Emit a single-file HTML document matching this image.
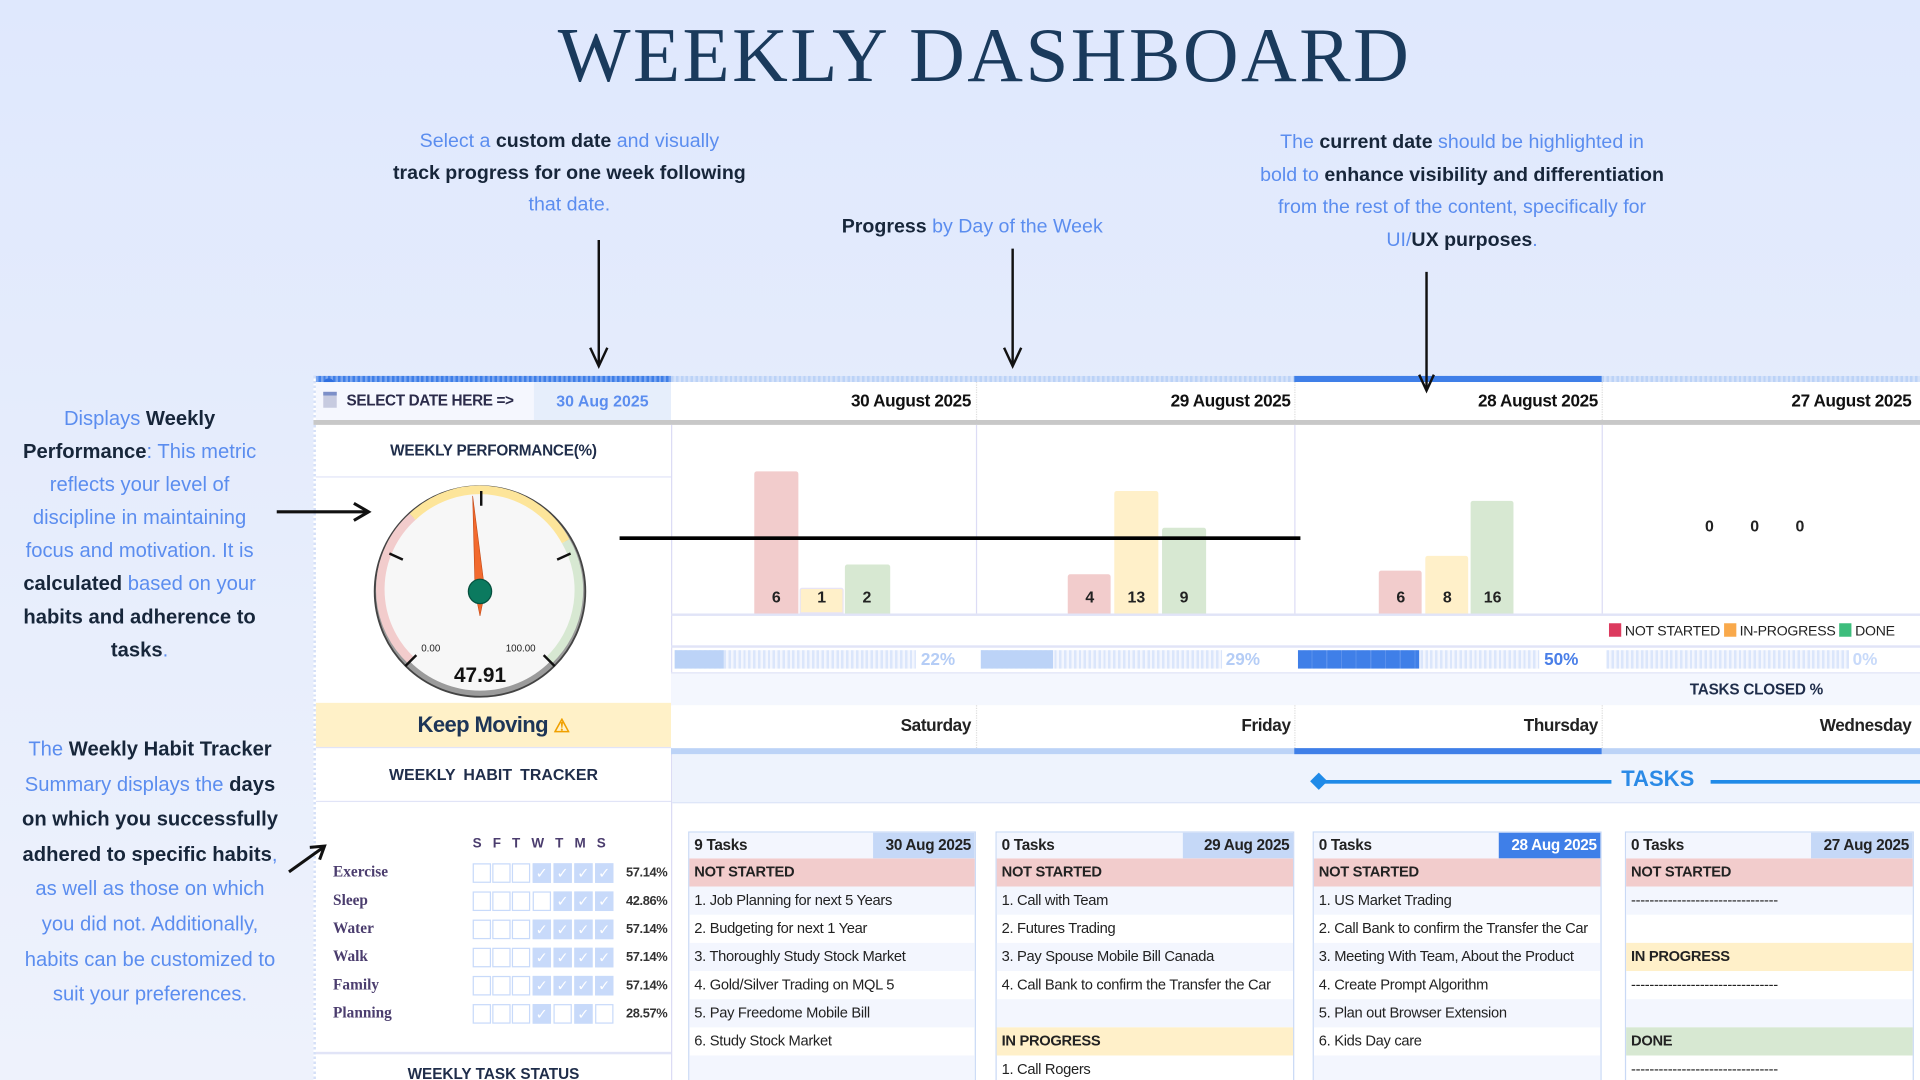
<!DOCTYPE html>
<html><head><meta charset="utf-8">
<style>
html,body{margin:0;padding:0;width:1920px;height:1080px;overflow:hidden;background:#e2eafc}
#s{position:absolute;left:0;top:0;width:1568px;height:882px;transform:scale(1.22449);transform-origin:0 0;background:linear-gradient(#dfe8fd,#e8eefc 60%,#eef2fc);font-family:"Liberation Sans",sans-serif;overflow:hidden}
.a{position:absolute}
.ann{position:absolute;text-align:center;color:#5b8def;font-size:16px;white-space:nowrap}
.ann b{color:#17263a}
.n{font-family:"Liberation Sans Narrow","Liberation Sans",sans-serif}
.hd{position:absolute;top:312px;height:31px;line-height:31px;text-align:right;font-weight:bold;font-size:14px;color:#111;background:#fff;letter-spacing:-.3px}
.dn{position:absolute;top:576px;height:35px;line-height:33px;text-align:right;font-weight:bold;font-size:14px;color:#222;background:#fff;letter-spacing:-.3px}
.bar{position:absolute;border-radius:2px 2px 0 0;text-align:center;font-weight:bold;font-size:13px;color:#222;box-sizing:border-box;padding-top:0}
.bl{position:absolute;font-weight:bold;font-size:13px;color:#222;width:36px;text-align:center}
.pb{position:absolute;height:15px;background:repeating-linear-gradient(90deg,#dbe6fb 0 2px,#f3f6fe 2px 4px)}
.pf{position:absolute;left:0;top:0;height:15px}
.pt{position:absolute;font-size:14px;font-weight:bold}
.card{position:absolute;top:679px;height:210px;border:1.5px solid #c9d9f5;background:#fff;font-family:"Liberation Sans Narrow","Liberation Sans",sans-serif;font-size:12px;letter-spacing:-.25px;color:#222}
.card div{height:23px;line-height:23px;padding-left:4px;white-space:nowrap;overflow:hidden}
.card .h{height:21px;line-height:21px;font-weight:bold;font-size:12.5px;background:#f3f6fe;position:relative}
.card .h span{position:absolute;right:0;top:0;padding:0 3px;height:21px}
.ns{background:#f2cccc;font-weight:bold}
.ip{background:#fff0c9;font-weight:bold}
.dn2{background:#d7e8d2;font-weight:bold}
.al{background:#f3f6fe}
.hb{position:absolute;width:15px;height:16px;border:1.5px solid #c8dafa;background:#fff;box-sizing:border-box;color:#fff;font-size:12px;line-height:14px;text-align:center}
.hb.c{background:#c8dafa}
.hn{position:absolute;left:272px;font-family:"Liberation Serif",serif;font-weight:bold;font-size:12.5px;color:#4b3d6e}
.hp{position:absolute;left:500px;width:45px;text-align:right;font-size:10.5px;font-weight:bold;color:#333;letter-spacing:-.3px}
</style></head><body><div id="s">

<div class="a" style="left:0;width:1608px;top:7px;text-align:center;font-family:'Liberation Serif',serif;font-size:63px;letter-spacing:2px;color:#1a3a5c;line-height:76px">WEEKLY DASHBOARD</div>

<div class="ann" style="left:265px;width:400px;top:103px;line-height:26px">Select a <b>custom date</b> and visually<br><b>track progress for one week following</b><br>that date.</div>
<div class="ann" style="left:594px;width:400px;top:174px;line-height:24px"><b>Progress</b> by Day of the Week</div>
<div class="ann" style="left:994px;width:400px;top:104px;line-height:26.5px">The <b>current date</b> should be highlighted in<br>bold to <b>enhance visibility and differentiation</b><br>from the rest of the content, specifically for<br>UI/<b>UX purposes</b>.</div>
<div class="ann" style="left:0;width:228px;top:329px;line-height:27px;font-size:16.5px">Displays <b>Weekly<br>Performance</b>: This metric<br>reflects your level of<br>discipline in maintaining<br>focus and motivation. It is<br><b>calculated</b> based on your<br><b>habits and adherence to<br>tasks</b>.</div>
<div class="ann" style="left:0;width:245px;top:598px;line-height:28.6px;font-size:16.5px">The <b>Weekly Habit Tracker</b><br>Summary displays the <b>days<br>on which you successfully<br>adhered to specific habits</b>,<br>as well as those on which<br>you did not. Additionally,<br>habits can be customized to<br>suit your preferences.</div>

<div class="a" style="left:256px;top:307px;width:1312px;height:575px;background:#fff"></div>
<div class="a" style="left:256px;top:307px;width:1312px;height:5px;background:repeating-linear-gradient(90deg,#bcd3f7 0 2px,#d4e2fa 2px 4px)"></div>
<div class="a" style="left:256px;top:307px;width:292px;height:5px;background:repeating-linear-gradient(90deg,#3f7fe8 0 2px,#7aa6f0 2px 4px)"></div>
<div class="a" style="left:1057px;top:307px;width:251px;height:5px;background:#3f7fe8"></div>
<div class="a" style="left:256px;top:307px;width:2px;height:575px;background:repeating-linear-gradient(#d5e0f7 0 2px,#fff 2px 4px)"></div>
<div class="a" style="left:264px;top:309px;width:9px;height:9px;border-radius:50%;background:#2f6fe0"></div>

<div class="a" style="left:258px;top:312px;width:178px;height:31px;background:#f5f7fe"></div>
<div class="a" style="left:264px;top:320px;width:11px;height:13px;background:#c7cbe0;border-top:3px solid #7c8fc8;box-sizing:border-box"></div>
<div class="a n" style="left:283px;top:312px;line-height:31px;font-size:12.5px;font-weight:bold;color:#2b2b4a;letter-spacing:-.3px">SELECT DATE HERE =&gt;</div>
<div class="a n" style="left:436px;top:312px;width:112px;height:31px;line-height:31px;background:#e6eefb;text-align:center;font-size:13px;font-weight:bold;color:#5b8def">30 Aug 2025</div>

<div class="hd" style="left:548px;width:245px;padding-right:4px">30 August 2025</div>
<div class="hd" style="left:797px;width:256px;padding-right:4px;border-left:1px dotted #ddd">29 August 2025</div>
<div class="hd" style="left:1057px;width:247px;padding-right:4px;border-left:1px dotted #ddd">28 August 2025</div>
<div class="hd" style="left:1308px;width:252px;padding-right:8px;border-left:1px dotted #ddd">27 August 2025</div>
<div class="a" style="left:256px;top:343px;width:1312px;height:4px;background:#c8c8c8"></div>

<div class="a n" style="left:258px;top:347px;width:290px;height:42px;line-height:42px;text-align:center;font-size:12.5px;font-weight:bold;color:#1f2d4a;border-bottom:1.5px solid #e1e4f7;letter-spacing:-.2px">WEEKLY PERFORMANCE(%)</div>
<div class="a" style="left:548px;top:347px;width:1px;height:229px;background:#dcdcf5"></div>
<svg class="a" style="left:300px;top:390px" width="185" height="185" viewBox="300 390 185 185">
<circle cx="392" cy="483" r="86" fill="#9b9b9b" stroke="#444" stroke-width="1.5"/>
<circle cx="392" cy="483" r="81" fill="#f7f7f7"/>
<path d="M335.7 539.3 A79.6 79.6 0 0 1 337 422" fill="none" stroke="#f2cccc" stroke-width="7"/>
<path d="M337 422 A79.6 79.6 0 0 1 462 442" fill="none" stroke="#fde59a" stroke-width="7"/>
<path d="M462 442 A79.6 79.6 0 0 1 448.3 539.3" fill="none" stroke="#d7e8d2" stroke-width="7"/>
<g stroke="#111" stroke-width="2">
<line x1="331" y1="544" x2="340" y2="535"/><line x1="453" y1="544" x2="444" y2="535"/>
<line x1="318" y1="452" x2="329" y2="457"/><line x1="466" y1="452" x2="455" y2="457"/>
<line x1="393" y1="401" x2="393" y2="413"/></g>
<polygon points="386,405 396,483 392,503 388,483" fill="#f26a2e" stroke="#c44a16" stroke-width=".5"/>
<ellipse cx="392" cy="483" rx="9.5" ry="10" fill="#0b7a5f" stroke="#06503e"/>
<text x="344" y="532" font-size="8" font-family="Liberation Sans" fill="#222">0.00</text>
<text x="413" y="532" font-size="8" font-family="Liberation Sans" fill="#222">100.00</text>
<text x="392" y="557" text-anchor="middle" font-size="17" font-weight="bold" font-family="Liberation Sans" fill="#111">47.91</text>
</svg>
<div class="a" style="left:258px;top:574px;width:290px;height:36px;line-height:37px;background:#fff1c8;text-align:center;font-size:18px;font-weight:bold;color:#1d3557;letter-spacing:-.5px"><span class="n">Keep Moving</span> <span style="color:#f0a000;font-size:15px">⚠</span></div>
<div class="a n" style="left:258px;top:610px;width:290px;height:45px;line-height:44px;text-align:center;font-size:13px;font-weight:bold;color:#1f2d4a;word-spacing:3px;border-bottom:1.5px solid #e1e4f7;border-top:1.5px solid #e1e4f7;box-sizing:border-box">WEEKLY HABIT TRACKER</div>
<div class="a" style="left:548px;top:610px;width:1px;height:272px;background:#dcdcf5"></div>

<div class="a n" style="left:386px;top:683px;width:118px;font-size:11px;font-weight:bold;color:#4b3d6e;word-spacing:6px">S F T W T M S</div>

<div class="hn" style="top:705px">Exercise</div><div class="hn" style="top:728px">Sleep</div><div class="hn" style="top:751px">Water</div><div class="hn" style="top:774px">Walk</div><div class="hn" style="top:797px">Family</div><div class="hn" style="top:820px">Planning</div>
<div class="hp" style="top:707px">57.14%</div><div class="hp" style="top:730px">42.86%</div><div class="hp" style="top:753px">57.14%</div><div class="hp" style="top:776px">57.14%</div><div class="hp" style="top:799px">57.14%</div><div class="hp" style="top:822px">28.57%</div>

<div class="hb" style="left:386px;top:705px"></div><div class="hb" style="left:402px;top:705px"></div><div class="hb" style="left:418px;top:705px"></div><div class="hb c" style="left:435px;top:705px">✓</div><div class="hb c" style="left:452px;top:705px">✓</div><div class="hb c" style="left:469px;top:705px">✓</div><div class="hb c" style="left:486px;top:705px">✓</div>
<div class="hb" style="left:386px;top:728px"></div><div class="hb" style="left:402px;top:728px"></div><div class="hb" style="left:418px;top:728px"></div><div class="hb" style="left:435px;top:728px"></div><div class="hb c" style="left:452px;top:728px">✓</div><div class="hb c" style="left:469px;top:728px">✓</div><div class="hb c" style="left:486px;top:728px">✓</div>
<div class="hb" style="left:386px;top:751px"></div><div class="hb" style="left:402px;top:751px"></div><div class="hb" style="left:418px;top:751px"></div><div class="hb c" style="left:435px;top:751px">✓</div><div class="hb c" style="left:452px;top:751px">✓</div><div class="hb c" style="left:469px;top:751px">✓</div><div class="hb c" style="left:486px;top:751px">✓</div>
<div class="hb" style="left:386px;top:774px"></div><div class="hb" style="left:402px;top:774px"></div><div class="hb" style="left:418px;top:774px"></div><div class="hb c" style="left:435px;top:774px">✓</div><div class="hb c" style="left:452px;top:774px">✓</div><div class="hb c" style="left:469px;top:774px">✓</div><div class="hb c" style="left:486px;top:774px">✓</div>
<div class="hb" style="left:386px;top:797px"></div><div class="hb" style="left:402px;top:797px"></div><div class="hb" style="left:418px;top:797px"></div><div class="hb c" style="left:435px;top:797px">✓</div><div class="hb c" style="left:452px;top:797px">✓</div><div class="hb c" style="left:469px;top:797px">✓</div><div class="hb c" style="left:486px;top:797px">✓</div>
<div class="hb" style="left:386px;top:820px"></div><div class="hb" style="left:402px;top:820px"></div><div class="hb" style="left:418px;top:820px"></div><div class="hb c" style="left:435px;top:820px">✓</div><div class="hb" style="left:452px;top:820px"></div><div class="hb c" style="left:469px;top:820px">✓</div><div class="hb" style="left:486px;top:820px"></div>

<div class="a" style="left:258px;top:859px;width:290px;height:1.5px;background:#e1e4f7"></div>
<div class="a n" style="left:258px;top:870px;width:290px;text-align:center;font-size:12.5px;font-weight:bold;color:#1f2d4a">WEEKLY TASK STATUS</div>

<div class="a" style="left:797px;top:347px;width:1px;height:154px;background:#dcdcf5"></div>
<div class="a" style="left:1057px;top:347px;width:1px;height:154px;background:#dcdcf5"></div>
<div class="a" style="left:1308px;top:347px;width:1px;height:154px;background:#dcdcf5"></div>
<div class="a" style="left:548px;top:501px;width:1020px;height:1.5px;background:#e1e4f7"></div>

<div class="bar" style="left:616px;top:385px;width:36px;height:116px;background:#f2cccc"></div><div class="bl" style="left:616px;top:480px">6</div>
<div class="bar" style="left:653px;top:480px;width:36px;height:21px;background:#fff0c9;border:1px solid #e8e4f5"></div><div class="bl" style="left:653px;top:480px">1</div>
<div class="bar" style="left:690px;top:461px;width:37px;height:40px;background:#d7e8d2"></div><div class="bl" style="left:690px;top:480px">2</div>

<div class="bar" style="left:872px;top:469px;width:35px;height:32px;background:#f2cccc"></div><div class="bl" style="left:872px;top:480px">4</div>
<div class="bar" style="left:910px;top:401px;width:36px;height:100px;background:#fff0c9"></div><div class="bl" style="left:910px;top:480px">13</div>
<div class="bar" style="left:949px;top:431px;width:36px;height:70px;background:#d7e8d2"></div><div class="bl" style="left:949px;top:480px">9</div>

<div class="bar" style="left:1126px;top:466px;width:35px;height:35px;background:#f2cccc"></div><div class="bl" style="left:1126px;top:480px">6</div>
<div class="bar" style="left:1164px;top:454px;width:35px;height:47px;background:#fff0c9"></div><div class="bl" style="left:1164px;top:480px">8</div>
<div class="bar" style="left:1201px;top:409px;width:35px;height:92px;background:#d7e8d2"></div><div class="bl" style="left:1201px;top:480px">16</div>

<div class="bl" style="left:1378px;top:422px">0</div><div class="bl" style="left:1415px;top:422px">0</div><div class="bl" style="left:1452px;top:422px">0</div>

<div class="a" style="left:506px;top:438px;width:556px;height:3px;background:#000"></div>

<div class="a n" style="left:1314px;top:509px;font-size:11.5px;color:#222;white-space:nowrap;line-height:14px;letter-spacing:-.2px">
<span style="display:inline-block;width:10px;height:11px;background:#dc3a5e;vertical-align:-1px"></span> NOT STARTED
<span style="display:inline-block;width:10px;height:11px;background:#f9a94b;vertical-align:-1px"></span> IN-PROGRESS
<span style="display:inline-block;width:10px;height:11px;background:#3dbd7c;vertical-align:-1px"></span> DONE</div>
<div class="a" style="left:548px;top:527px;width:1020px;height:1.5px;background:#e1e4f7"></div>

<div class="pb" style="left:551px;top:531px;width:197px"><div class="pf" style="width:40px;background:#bcd3f7"></div></div><div class="pt" style="left:752px;top:530px;color:#b5cdf6">22%</div>
<div class="pb" style="left:801px;top:531px;width:197px"><div class="pf" style="width:59px;background:#bcd3f7"></div></div><div class="pt" style="left:1001px;top:530px;color:#b5cdf6">29%</div>
<div class="pb" style="left:1060px;top:531px;width:197px"><div class="pf" style="width:99px;background:repeating-linear-gradient(90deg,#3f7fe8 0 11px,#5a90ec 11px 12px)"></div></div><div class="pt" style="left:1261px;top:530px;color:#4a7fe8">50%</div>
<div class="pb" style="left:1312px;top:531px;width:198px"></div><div class="pt" style="left:1513px;top:530px;color:#c8dafa">0%</div>

<div class="a" style="left:548px;top:549px;width:1020px;height:27px;background:#f4f7fe;border-top:1.5px solid #e1e4f7;box-sizing:border-box"></div>
<div class="a n" style="left:1380px;top:556px;font-size:12.5px;font-weight:bold;color:#1f2d4a;letter-spacing:-.2px">TASKS CLOSED %</div>

<div class="dn" style="left:548px;width:245px;padding-right:4px">Saturday</div>
<div class="dn" style="left:797px;width:256px;padding-right:4px;border-left:1px dotted #ddd">Friday</div>
<div class="dn" style="left:1057px;width:247px;padding-right:4px;border-left:1px dotted #ddd">Thursday</div>
<div class="dn" style="left:1308px;width:252px;padding-right:8px;border-left:1px dotted #ddd">Wednesday</div>
<div class="a" style="left:548px;top:611px;width:1020px;height:5px;background:#bcd3f7"></div>
<div class="a" style="left:1057px;top:611px;width:251px;height:5px;background:#3f7fe8"></div>

<div class="a" style="left:549px;top:616px;width:1019px;height:40px;background:#eef3fd;border-bottom:1.5px solid #dde5f8;box-sizing:border-box"></div>
<div class="a" style="left:1072px;top:633px;width:10px;height:10px;background:#1f8ae8;transform:rotate(45deg)"></div>
<div class="a" style="left:1078px;top:637px;width:238px;height:2.5px;background:#1f8ae8"></div>
<div class="a n" style="left:1324px;top:626px;font-size:18px;font-weight:bold;color:#2b8ae6">TASKS</div>
<div class="a" style="left:1397px;top:637px;width:171px;height:2.5px;background:#1f8ae8"></div>

<div class="card" style="left:562px;width:233px">
<div class="h">9 Tasks<span style="background:#c5d8f7;width:77px;text-align:right">30 Aug 2025</span></div>
<div class="ns">NOT STARTED</div>
<div class="al">1. Job Planning for next 5 Years</div>
<div>2. Budgeting for next 1 Year</div>
<div class="al">3. Thoroughly Study Stock Market</div>
<div>4. Gold/Silver Trading on MQL 5</div>
<div class="al">5. Pay Freedome Mobile Bill</div>
<div>6. Study Stock Market</div>
<div class="al"></div>
</div>
<div class="card" style="left:813px;width:242px">
<div class="h">0 Tasks<span style="background:#c5d8f7;width:84px;text-align:right">29 Aug 2025</span></div>
<div class="ns">NOT STARTED</div>
<div class="al">1. Call with Team</div>
<div>2. Futures Trading</div>
<div class="al">3. Pay Spouse Mobile Bill Canada</div>
<div>4. Call Bank to confirm the Transfer the Car</div>
<div class="al"></div>
<div class="ip">IN PROGRESS</div>
<div>1. Call Rogers</div>
</div>
<div class="card" style="left:1072px;width:234px">
<div class="h">0 Tasks<span style="background:#3f7fe8;color:#fff;width:77px;text-align:right">28 Aug 2025</span></div>
<div class="ns">NOT STARTED</div>
<div class="al">1. US Market Trading</div>
<div>2. Call Bank to confirm the Transfer the Car</div>
<div class="al">3. Meeting With Team, About the Product</div>
<div>4. Create Prompt Algorithm</div>
<div class="al">5. Plan out Browser Extension</div>
<div>6. Kids Day care</div>
<div class="al"></div>
</div>
<div class="card" style="left:1327px;width:234px">
<div class="h">0 Tasks<span style="background:#c5d8f7;width:77px;text-align:right">27 Aug 2025</span></div>
<div class="ns">NOT STARTED</div>
<div class="al">--------------------------------</div>
<div></div>
<div class="ip">IN PROGRESS</div>
<div>--------------------------------</div>
<div class="al"></div>
<div class="dn2">DONE</div>
<div>--------------------------------</div>
</div>

<svg class="a" style="left:0;top:0" width="1568" height="882">
<g stroke="#111" stroke-width="2" fill="none">
<line x1="489" y1="196" x2="489" y2="298"/><polyline points="482,284 489,299 496,284"/>
<line x1="827" y1="203" x2="827" y2="298"/><polyline points="820,284 827,299 834,284"/>
<line x1="1165" y1="222" x2="1165" y2="318"/><polyline points="1159,306 1165,319 1171,306"/>
<line x1="226" y1="418" x2="300" y2="418" stroke-width="2.5"/><polyline points="289,411 301,418 289,425" stroke-width="2.5"/>
<line x1="236" y1="712" x2="264" y2="692" stroke-width="2.5"/><polyline points="253,692 265,691 261,702" stroke-width="2.5"/>
</g></svg>
</div></body></html>
